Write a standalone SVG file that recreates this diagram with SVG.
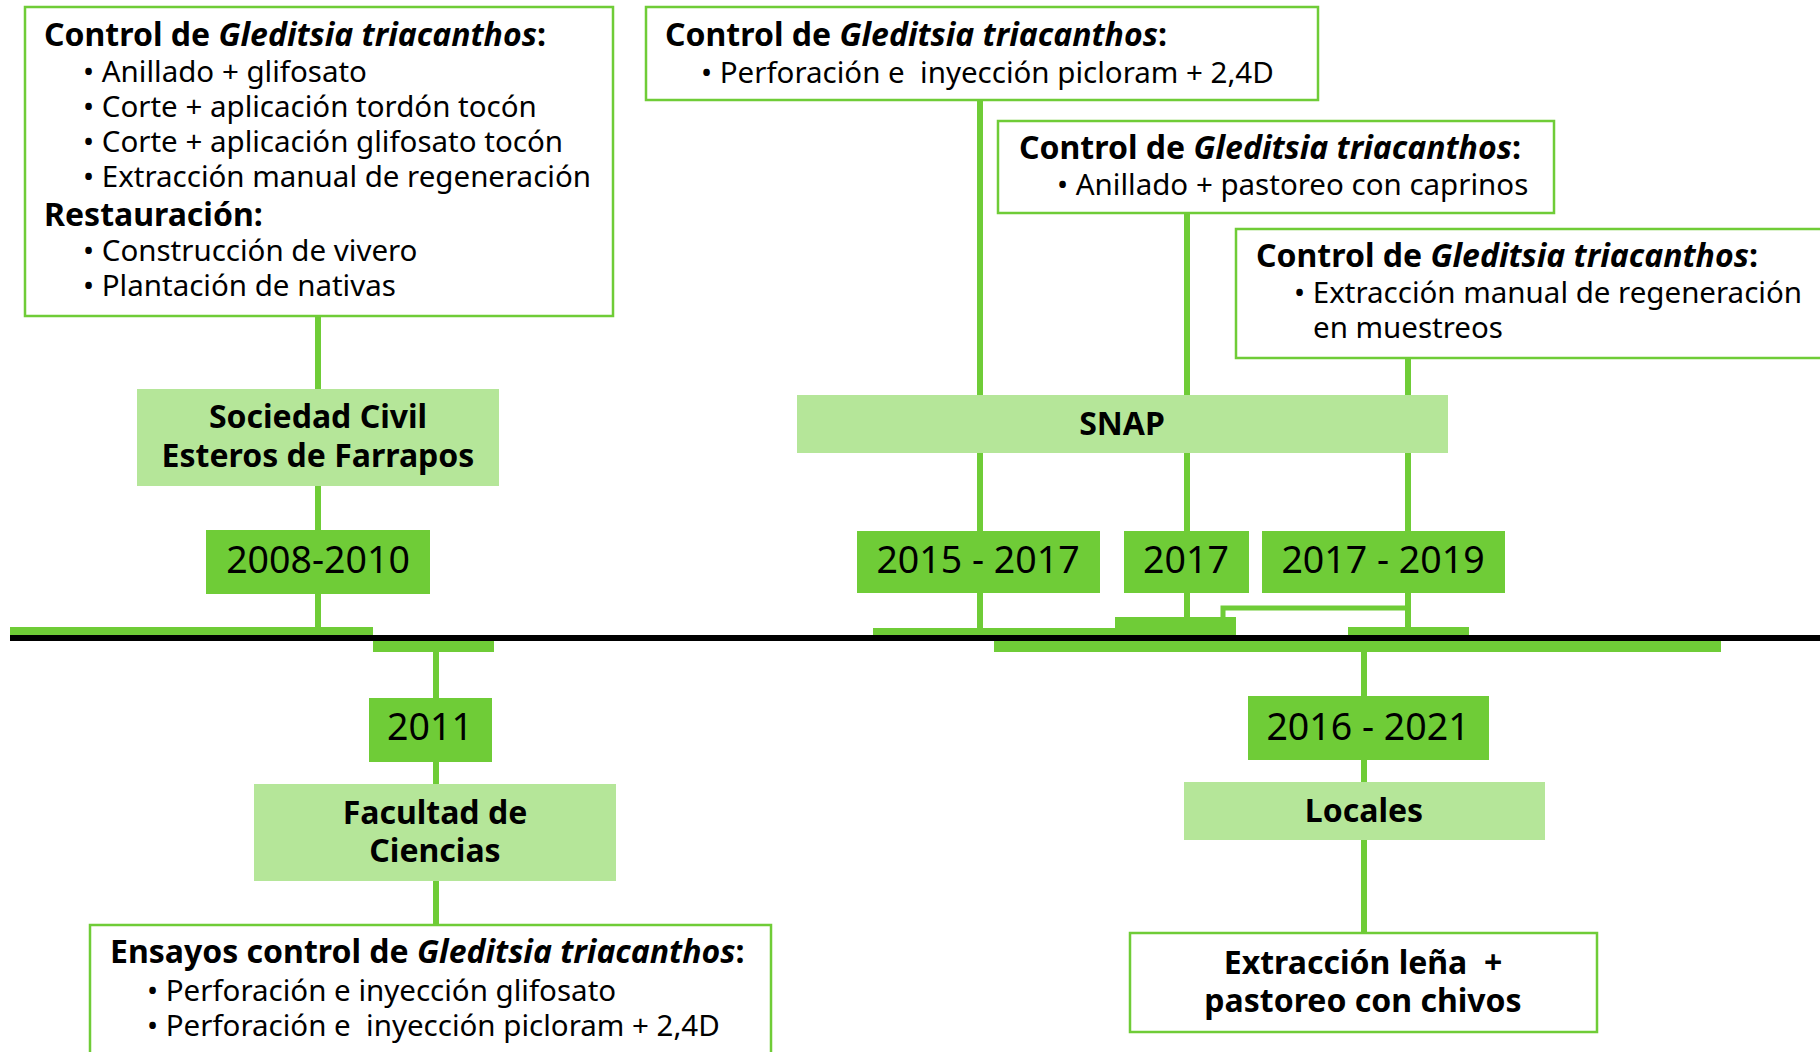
<svg xmlns="http://www.w3.org/2000/svg" width="1820" height="1052" viewBox="0 0 1820 1052">
<style>
  text { font-family: "Noto Sans", "Open Sans", "DejaVu Sans", sans-serif; fill: #000; white-space: pre; }
  .t { font-size: 29.5px; }
  .b { font-weight: bold; font-size: 32px; }
  .i { font-style: italic; }
  .org { font-size: 32px; font-weight: bold; text-anchor: middle; }
  .yr { font-size: 37.5px; text-anchor: middle; }
  .box { fill: #fff; stroke: #6fcc37; stroke-width: 2.5; }
  .orgbox { fill: #b5e699; }
  .yrbox { fill: #6fcc37; }
  .ln { stroke: #6fcc37; stroke-width: 6; fill: none; }
  .bar { fill: #6fcc37; }
</style>

<g id="connectors">
  <line class="ln" x1="318" y1="316" x2="318" y2="389"/>
  <line class="ln" x1="318" y1="486" x2="318" y2="530"/>
  <line class="ln" x1="318" y1="594" x2="318" y2="628"/>
  <line class="ln" x1="980" y1="100" x2="980" y2="395"/>
  <line class="ln" x1="980" y1="453" x2="980" y2="531"/>
  <line class="ln" x1="980" y1="593" x2="980" y2="629"/>
  <line class="ln" x1="1187" y1="213" x2="1187" y2="395"/>
  <line class="ln" x1="1187" y1="453" x2="1187" y2="531"/>
  <line class="ln" x1="1187" y1="593" x2="1187" y2="618"/>
  <line class="ln" x1="1408" y1="358" x2="1408" y2="395"/>
  <line class="ln" x1="1408" y1="453" x2="1408" y2="531"/>
  <line class="ln" x1="1408" y1="593" x2="1408" y2="628"/>
  <polyline class="ln" style="stroke-width:5" points="1408,608 1223,608 1223,618"/>
  <line class="ln" x1="436" y1="651" x2="436" y2="698"/>
  <line class="ln" x1="436" y1="762" x2="436" y2="784"/>
  <line class="ln" x1="436" y1="881" x2="436" y2="925"/>
  <line class="ln" x1="1364" y1="651" x2="1364" y2="696"/>
  <line class="ln" x1="1364" y1="760" x2="1364" y2="782"/>
  <line class="ln" x1="1364" y1="840" x2="1364" y2="933"/>
</g>

<g id="timeline">
  <rect class="bar" x="10" y="627" width="363" height="9"/>
  <rect class="bar" x="873" y="628" width="242" height="8"/>
  <rect class="bar" x="1115" y="617" width="121" height="19"/>
  <rect class="bar" x="1348" y="627" width="121" height="9"/>
  <rect class="bar" x="373" y="640" width="121" height="12"/>
  <rect class="bar" x="994" y="640" width="727" height="12"/>
  <rect x="10" y="635" width="1810" height="6" fill="#000"/>
</g>

<g id="box-sociedad-actions">
  <rect class="box" x="25" y="7" width="588" height="309"/>
  <text class="t b" x="44" y="46">Control de <tspan class="i">Gleditsia triacanthos</tspan>:</text>
  <text class="t" x="83" y="82">• Anillado + glifosato</text>
  <text class="t" x="83" y="117">• Corte + aplicación tordón tocón</text>
  <text class="t" x="83" y="152">• Corte + aplicación glifosato tocón</text>
  <text class="t" x="83" y="187">• Extracción manual de regeneración</text>
  <text class="t b" x="44" y="226">Restauración:</text>
  <text class="t" x="83" y="261">• Construcción de vivero</text>
  <text class="t" x="83" y="296">• Plantación de nativas</text>
</g>

<g id="box-snap-1">
  <rect class="box" x="646" y="7" width="672" height="93"/>
  <text class="t b" x="665" y="46">Control de <tspan class="i">Gleditsia triacanthos</tspan>:</text>
  <text class="t" x="701" y="83">• Perforación e  inyección picloram + 2,4D</text>
</g>

<g id="box-snap-2">
  <rect class="box" x="998" y="121" width="556" height="92"/>
  <text class="t b" x="1019" y="159">Control de <tspan class="i">Gleditsia triacanthos</tspan>:</text>
  <text class="t" x="1057" y="195">• Anillado + pastoreo con caprinos</text>
</g>

<g id="box-snap-3">
  <rect class="box" x="1236" y="229" width="600" height="129"/>
  <text class="t b" x="1256" y="267">Control de <tspan class="i">Gleditsia triacanthos</tspan>:</text>
  <text class="t" x="1294" y="303">• Extracción manual de regeneración</text>
  <text class="t" x="1313" y="338">en muestreos</text>
</g>

<g id="org-sociedad">
  <rect class="orgbox" x="137" y="389" width="362" height="97"/>
  <text class="org" x="318" y="428">Sociedad Civil</text>
  <text class="org" x="318" y="467">Esteros de Farrapos</text>
</g>

<g id="year-2008">
  <rect class="yrbox" x="206" y="530" width="224" height="64"/>
  <text class="yr" x="318" y="573">2008-2010</text>
</g>

<g id="org-snap">
  <rect class="orgbox" x="797" y="395" width="651" height="58"/>
  <text class="org" x="1122" y="435">SNAP</text>
</g>

<g id="year-2015">
  <rect class="yrbox" x="857" y="531" width="243" height="62"/>
  <text class="yr" x="978" y="573">2015 - 2017</text>
</g>

<g id="year-2017">
  <rect class="yrbox" x="1124" y="531" width="125" height="62"/>
  <text class="yr" x="1186" y="573">2017</text>
</g>

<g id="year-2017-2019">
  <rect class="yrbox" x="1262" y="531" width="243" height="62"/>
  <text class="yr" x="1383" y="573">2017 - 2019</text>
</g>

<g id="year-2011">
  <rect class="yrbox" x="369" y="698" width="123" height="64"/>
  <text class="yr" x="430" y="740">2011</text>
</g>

<g id="org-facultad">
  <rect class="orgbox" x="254" y="784" width="362" height="97"/>
  <text class="org" x="435" y="824">Facultad de</text>
  <text class="org" x="435" y="862">Ciencias</text>
</g>

<g id="box-facultad-actions">
  <rect class="box" x="90" y="925" width="681" height="140"/>
  <text class="t b" x="110" y="963">Ensayos control de <tspan class="i">Gleditsia triacanthos</tspan>:</text>
  <text class="t" x="147" y="1001">• Perforación e inyección glifosato</text>
  <text class="t" x="147" y="1036">• Perforación e  inyección picloram + 2,4D</text>
</g>

<g id="year-2016">
  <rect class="yrbox" x="1248" y="696" width="241" height="64"/>
  <text class="yr" x="1368" y="740">2016 - 2021</text>
</g>

<g id="org-locales">
  <rect class="orgbox" x="1184" y="782" width="361" height="58"/>
  <text class="org" x="1364" y="822">Locales</text>
</g>

<g id="box-locales-actions">
  <rect class="box" x="1130" y="933" width="467" height="99"/>
  <text class="org" x="1363" y="974">Extracción leña  +</text>
  <text class="org" x="1363" y="1012">pastoreo con chivos</text>
</g>
</svg>
